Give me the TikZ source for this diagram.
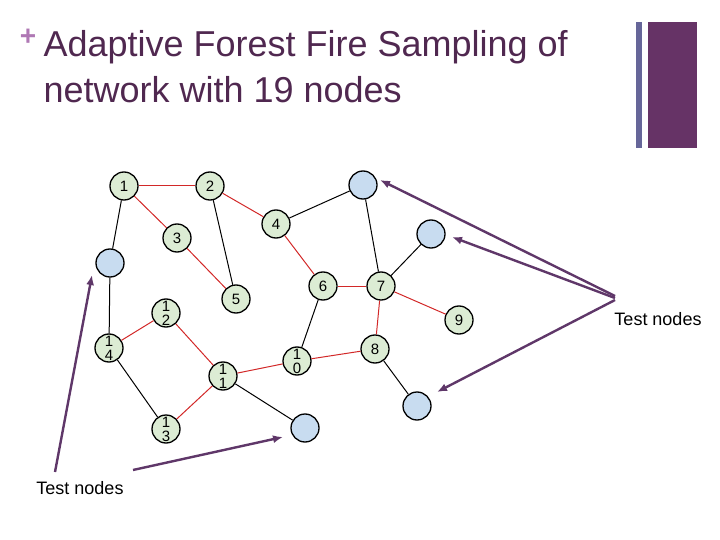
\documentclass[tikz,border=0pt]{standalone}
\usepackage{fontspec}
\setmainfont{Liberation Sans}
\usetikzlibrary{arrows.meta}
\begin{document}
\begin{tikzpicture}[x=1pt,y=-1pt,
  gn/.style={circle,draw=black,line width=1.3pt,fill={rgb,255:red,220;green,236;blue,212},minimum size=28pt,inner sep=0pt,font=\fontsize{15}{14}\selectfont,align=center},
  bn/.style={circle,draw=black,line width=1.3pt,fill={rgb,255:red,200;green,220;blue,240},minimum size=28pt,inner sep=0pt},
  re/.style={draw={rgb,255:red,210;green,40;blue,40},line width=1pt},
  be/.style={draw=black,line width=1pt},
  pa/.style={draw={rgb,255:red,95;green,55;blue,105},line width=2.4pt,-{Latex[length=10pt,width=8pt]}},
  ttl/.style={text={rgb,255:red,80;green,40;blue,80},font=\fontsize{36}{40}\selectfont,anchor=west}]
\useasboundingbox (0,0) rectangle (720,540);
\fill[fill={rgb,255:red,102;green,102;blue,153}] (636,22) rectangle (642,148);
\fill[fill={rgb,255:red,102;green,51;blue,102}] (648,22) rectangle (697,148);
\node[text={rgb,255:red,175;green,120;blue,180},font=\fontsize{28}{28}\selectfont\bfseries] (plus) at (28,37) {+};
\node[ttl] (t1) at (40,47) {Adaptive Forest Fire Sampling of};
\node[ttl] (t2) at (40,90) {network with 19 nodes};
\node[gn] (n1) at (124,186) {1};
\node[gn] (n2) at (210,186) {2};
\node[gn] (n3) at (177,238) {3};
\node[gn] (n4) at (276,224) {4};
\node[gn] (n5) at (236,299) {5};
\node[gn] (n6) at (323,286) {6};
\node[gn] (n7) at (381,286) {7};
\node[gn] (n9) at (459,320) {9};
\node[gn] (n8) at (375,349) {8};
\node[gn] (n10) at (297,361) {1\\0};
\node[gn] (n11) at (223,376) {1\\1};
\node[gn] (n12) at (166,313) {1\\2};
\node[gn] (n14) at (109,348) {1\\4};
\node[gn] (n13) at (166,429) {1\\3};
\node[bn] (ba) at (110,263) {};
\node[bn] (bb) at (363,185) {};
\node[bn] (bc) at (431,234) {};
\node[bn] (bd) at (417,406) {};
\node[bn] (be) at (305,428) {};
\draw[re] (n1)--(n2); \draw[re] (n1)--(n3); \draw[re] (n3)--(n5);
\draw[be] (n2)--(n5); \draw[re] (n2)--(n4); \draw[be] (n4)--(bb);
\draw[re] (n4)--(n6); \draw[re] (n6)--(n7); \draw[be] (bb)--(n7);
\draw[be] (bc)--(n7); \draw[re] (n7)--(n9); \draw[re] (n7)--(n8);
\draw[re] (n8)--(n10); \draw[be] (n6)--(n10); \draw[re] (n10)--(n11);
\draw[re] (n11)--(n12); \draw[re] (n12)--(n14); \draw[be] (n14)--(ba);
\draw[be] (ba)--(n1); \draw[be] (n14)--(n13); \draw[re] (n13)--(n11);
\draw[be] (n11)--(be); \draw[be] (n8)--(bd);
\coordinate (r1) at (615,296);
\coordinate (r2) at (615,298);
\coordinate (r3) at (615,300);
\coordinate (l1) at (55,472);
\coordinate (l2) at (133,470);
\draw[pa] (r1)--(380,180);
\draw[pa] (r2)--(452,237);
\draw[pa] (r3)--(437,392);
\draw[pa] (l1)--(92,275);
\draw[pa] (l2)--(283,437);
\node[font=\fontsize{18}{20}\selectfont] (tr) at (658,319) {Test nodes};
\node[font=\fontsize{18}{20}\selectfont] (tl) at (80,488) {Test nodes};
\end{tikzpicture}
\end{document}
